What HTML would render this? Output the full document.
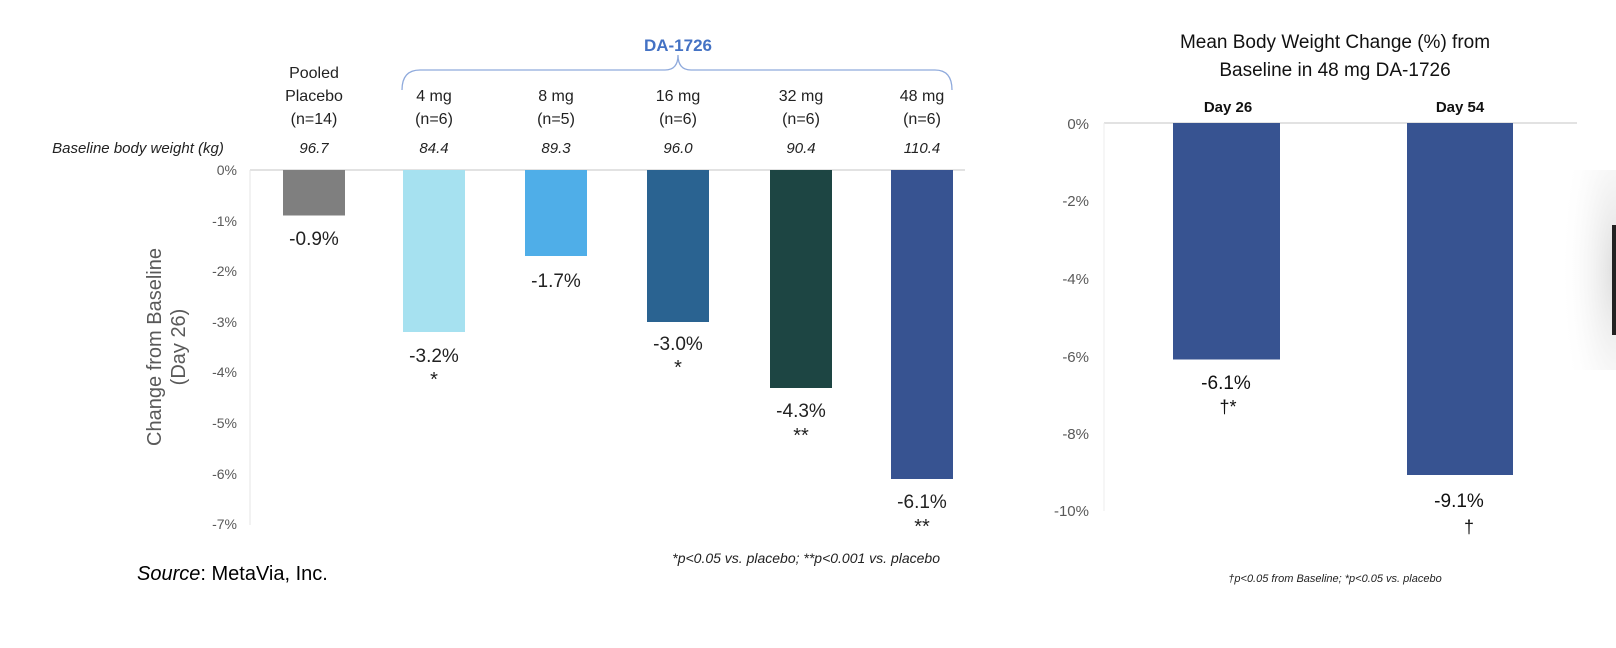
<!DOCTYPE html>
<html><head><style>
html,body{margin:0;padding:0;background:#fff;}
svg{display:block;}
text{font-family:"Liberation Sans",sans-serif;}
</style></head><body>
<svg width="1616" height="648" viewBox="0 0 1616 648" xmlns="http://www.w3.org/2000/svg">
<defs>
<radialGradient id="sh" cx="1" cy="0.5" r="1">
<stop offset="0" stop-color="#ddd"/><stop offset="1" stop-color="#fff" stop-opacity="0"/>
</radialGradient>
</defs>
<rect x="1560" y="170" width="56" height="200" fill="url(#sh)"/>
<rect x="1612" y="225" width="4" height="110" fill="#222"/>

<!-- LEFT CHART -->
<text x="678" y="51" font-size="17" font-weight="bold" fill="#4472c4" text-anchor="middle">DA-1726</text>
<path d="M402,90 Q402,70 420,70 L665,70 Q678,70 678,55 Q678,70 691,70 L935,70 Q952,70 952,90" fill="none" stroke="#8faadc" stroke-width="1.3"/>
<g font-size="16" fill="#222" text-anchor="middle">
<text x="314" y="78">Pooled</text><text x="314" y="101">Placebo</text><text x="314" y="124">(n=14)</text>
<text x="434" y="101">4 mg</text><text x="434" y="124">(n=6)</text>
<text x="556" y="101">8 mg</text><text x="556" y="124">(n=5)</text>
<text x="678" y="101">16 mg</text><text x="678" y="124">(n=6)</text>
<text x="801" y="101">32 mg</text><text x="801" y="124">(n=6)</text>
<text x="922" y="101">48 mg</text><text x="922" y="124">(n=6)</text>
</g>
<g font-size="15" fill="#222" font-style="italic" text-anchor="middle">
<text x="138" y="153">Baseline body weight (kg)</text>
<text x="314" y="153">96.7</text><text x="434" y="153">84.4</text><text x="556" y="153">89.3</text>
<text x="678" y="153">96.0</text><text x="801" y="153">90.4</text><text x="922" y="153">110.4</text>
</g>
<line x1="250" y1="170" x2="965" y2="170" stroke="#d9d9d9" stroke-width="1.5"/>
<line x1="250" y1="170" x2="250" y2="525" stroke="#e6e6e6" stroke-width="1"/>
<g font-size="14" fill="#595959" text-anchor="end">
<text x="237" y="175">0%</text><text x="237" y="226">-1%</text><text x="237" y="276">-2%</text>
<text x="237" y="327">-3%</text><text x="237" y="377">-4%</text><text x="237" y="428">-5%</text>
<text x="237" y="479">-6%</text><text x="237" y="529">-7%</text>
</g>
<g font-size="20" fill="#595959" text-anchor="middle" transform="translate(165,347) rotate(-90)">
<text x="0" y="-4">Change from Baseline</text><text x="0" y="20">(Day 26)</text>
</g>
<rect x="283" y="170" width="62" height="45.5" fill="#7f7f7f"/>
<rect x="403" y="170" width="62" height="162" fill="#a6e1f0"/>
<rect x="525" y="170" width="62" height="86" fill="#4faee8"/>
<rect x="647" y="170" width="62" height="152" fill="#2a6391"/>
<rect x="770" y="170" width="62" height="218" fill="#1d4543"/>
<rect x="891" y="170" width="62" height="309" fill="#375391"/>
<g font-size="19" fill="#222" text-anchor="middle">
<text x="314" y="245">-0.9%</text>
<text x="434" y="362">-3.2%</text><text x="434" y="386" font-size="20">*</text>
<text x="556" y="287">-1.7%</text>
<text x="678" y="350">-3.0%</text><text x="678" y="374" font-size="20">*</text>
<text x="801" y="417">-4.3%</text><text x="801" y="442" font-size="20">**</text>
<text x="922" y="508">-6.1%</text><text x="922" y="533" font-size="20">**</text>
</g>
<text x="137" y="580" font-size="20" fill="#000"><tspan font-style="italic">Source</tspan>: MetaVia, Inc.</text>
<text x="940" y="563" font-size="14" font-style="italic" fill="#222" text-anchor="end">*p&lt;0.05 vs. placebo; **p&lt;0.001 vs. placebo</text>

<!-- RIGHT CHART -->
<g font-size="19" fill="#111" text-anchor="middle">
<text x="1335" y="48">Mean Body Weight Change (%) from</text>
<text x="1335" y="76">Baseline in 48 mg DA-1726</text>
</g>
<g font-size="15" font-weight="bold" fill="#111" text-anchor="middle">
<text x="1228" y="112">Day 26</text><text x="1460" y="112">Day 54</text>
</g>
<line x1="1104" y1="123" x2="1577" y2="123" stroke="#d9d9d9" stroke-width="1.5"/>
<line x1="1104" y1="123" x2="1104" y2="511" stroke="#eee" stroke-width="1"/>
<g font-size="15" fill="#595959" text-anchor="end">
<text x="1089" y="129">0%</text><text x="1089" y="206">-2%</text><text x="1089" y="284">-4%</text>
<text x="1089" y="362">-6%</text><text x="1089" y="439">-8%</text><text x="1089" y="516">-10%</text>
</g>
<rect x="1173" y="123" width="107" height="236.5" fill="#375391"/>
<rect x="1407" y="123" width="106" height="352" fill="#375391"/>
<g font-size="19" fill="#111" text-anchor="middle">
<text x="1226" y="389">-6.1%</text><text x="1228" y="413" font-size="18">†*</text>
<text x="1459" y="507">-9.1%</text><text x="1469" y="533" font-size="18">†</text>
</g>
<text x="1335" y="582" font-size="11" font-style="italic" fill="#222" text-anchor="middle">†p&lt;0.05 from Baseline; *p&lt;0.05 vs. placebo</text>
</svg>
</body></html>
